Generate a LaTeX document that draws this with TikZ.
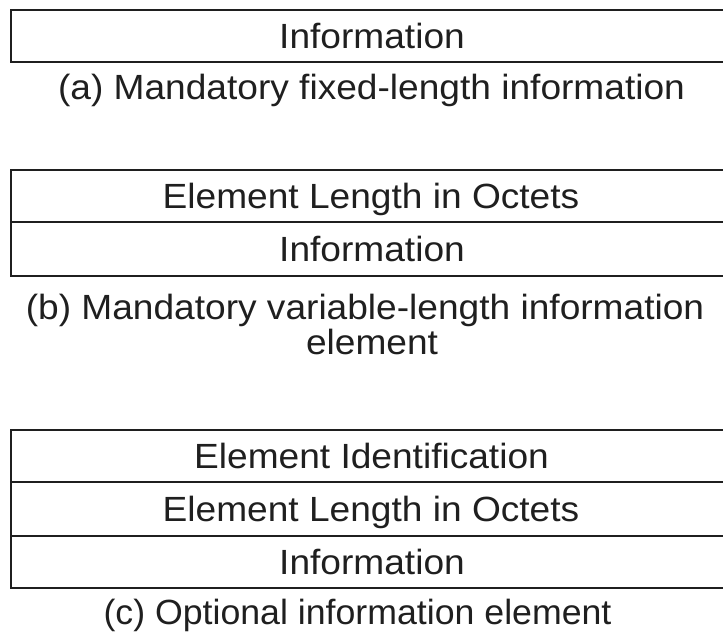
\documentclass[tikz,border=0pt]{standalone}
\usepackage{fontspec}
\setmainfont{Liberation Sans}
\newcommand{\hstr}[2][1.06]{\scalebox{#1}[1]{#2}}
\begin{document}
\begin{tikzpicture}[x=1pt,y=-1pt,
  boxline/.style={line width=1.6pt,color=black!88},
  lbl/.style={anchor=base,inner sep=0pt,text=black!88,font=\fontsize{35}{41}\selectfont}]
\useasboundingbox (0,0) rectangle (723,632);
% (a)
\draw[boxline] (723,10) -- (11,10) -- (11,62) -- (723,62);
\node[lbl] (ainfo) at (372,48.5) {\hstr{Information}};
\node[lbl] (acap) at (371.5,99) {\hstr{(a) Mandatory fixed-length information}};
% (b)
\draw[boxline] (723,170) -- (11,170) -- (11,276) -- (723,276);
\draw[boxline] (11,222) -- (723,222);
\node[lbl] (blen) at (371,208.5) {\hstr{Element Length in Octets}};
\node[lbl] (binfo) at (372,261.5) {\hstr{Information}};
\node[lbl] (bcap1) at (365,319) {\hstr{(b) Mandatory variable-length information}};
\node[lbl] (bcap2) at (372,354) {\hstr{element}};
% (c)
\draw[boxline] (723,430) -- (11,430) -- (11,588) -- (723,588);
\draw[boxline] (11,482) -- (723,482);
\draw[boxline] (11,536) -- (723,536);
\node[lbl] (cid) at (371.5,468.5) {\hstr{Element Identification}};
\node[lbl] (clen) at (371,521.5) {\hstr{Element Length in Octets}};
\node[lbl] (cinfo) at (372,574.5) {\hstr{Information}};
\node[lbl] (ccap) at (357.5,624) {\hstr[1.02]{(c) Optional information element}};
\end{tikzpicture}
\end{document}
